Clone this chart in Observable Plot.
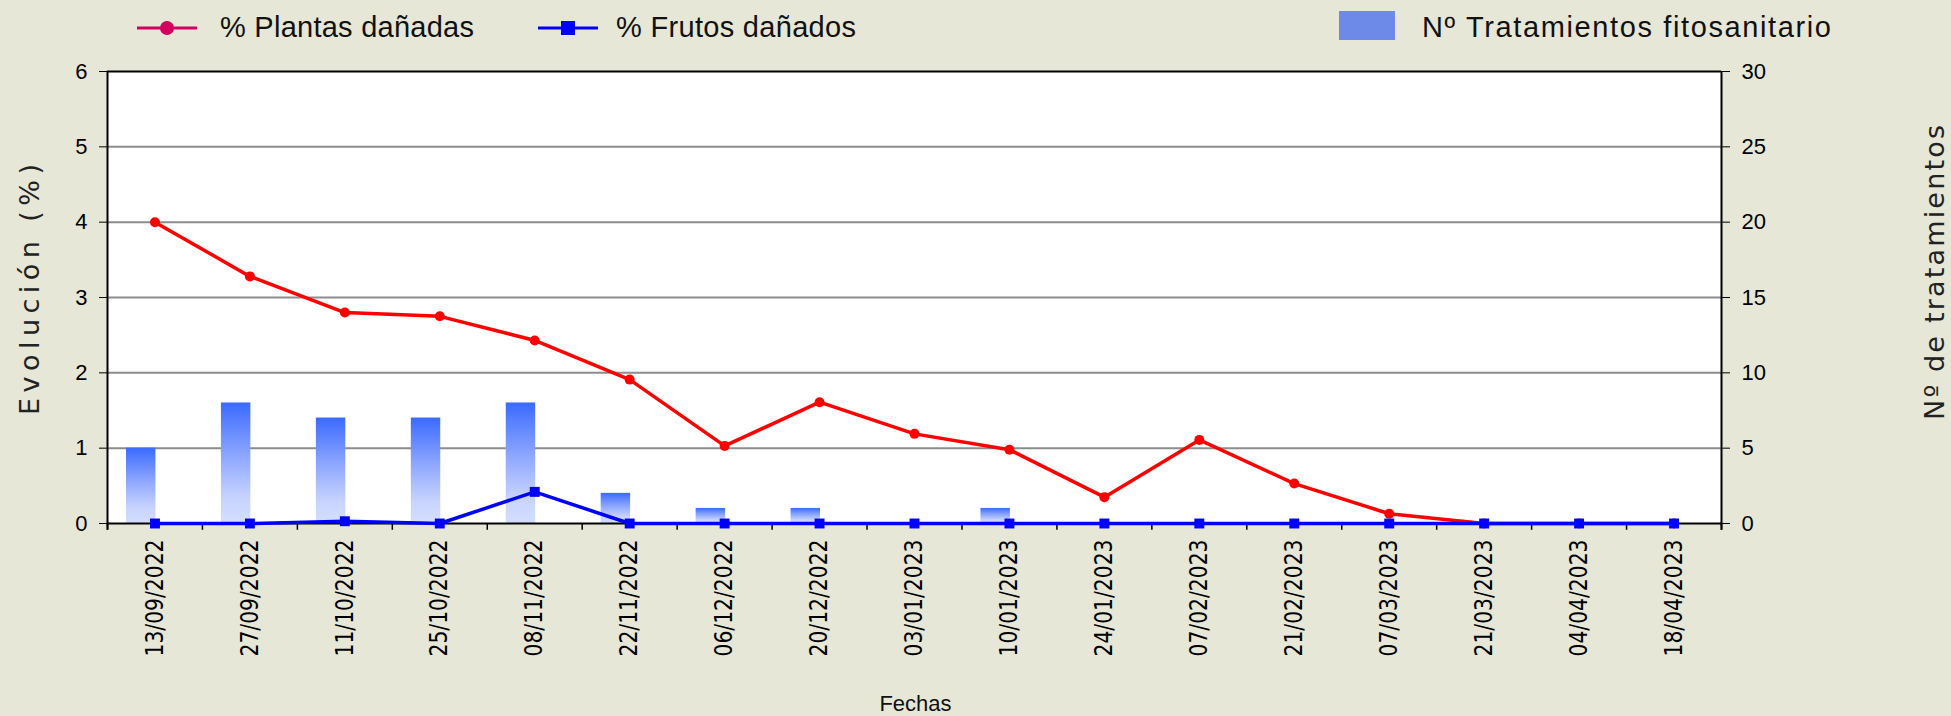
<!DOCTYPE html>
<html>
<head>
<meta charset="utf-8">
<script src="https://cdn.jsdelivr.net/npm/d3@7"></script>
<script src="https://cdn.jsdelivr.net/npm/@observablehq/plot@0.6"></script>
<style>
  html, body { margin: 0; padding: 0; background: #e6e7d7; }
  #legend { display: block; }
  #chart svg { display: block; }
</style>
</head>
<body>
<svg id="legend" width="1951" height="48"></svg>
<div id="chart"></div>
<script>
// ---- Data ----
const fechas = ["13/09/2022","27/09/2022","11/10/2022","25/10/2022","08/11/2022","22/11/2022",
  "06/12/2022","20/12/2022","03/01/2023","10/01/2023","24/01/2023","07/02/2023",
  "21/02/2023","07/03/2023","21/03/2023","04/04/2023","18/04/2023"];
const plantasDanadas = [4.00, 3.28, 2.80, 2.75, 2.43, 1.91, 1.03, 1.61, 1.19, 0.98, 0.35, 1.11, 0.53, 0.13, 0, 0, 0];
const frutosDanados = [0, 0, 0.03, 0, 0.42, 0, 0, 0, 0, 0, 0, 0, 0, 0, 0, 0, 0];
const tratamientos = [5, 8, 7, 7, 8, 2, 1, 1, 0, 1, 0, 0, 0, 0, 0, 0, 0];
const yTicks = [0, 1, 2, 3, 4, 5, 6];          // left axis (%)
const rightMax = 30;                           // right axis max (nº tratamientos)
const leftMax = 6;
const ratio = rightMax / leftMax;

const legendItems = [
  {label: "% Plantas dañadas", kind: "line", color: "#d2005f", symbol: "circle"},
  {label: "% Frutos dañados", kind: "line", color: "#0000ff", symbol: "square"},
  {label: "Nº Tratamientos fitosanitario", kind: "rect", color: "#6d8ae8"}
];

const rows = fechas.map((f, i) => ({i, fecha: f, plantas: plantasDanadas[i], frutos: frutosDanados[i], trat: tratamientos[i]}));
const bounds = d3.range(fechas.length + 1).map(k => k - 0.5);

// ---- Legend ----
const lg = d3.select("#legend");
const legendFont = "'Liberation Sans', Arial, sans-serif";
const lpos = [{x: 137, tx: 220, len: 254}, {x: 538, tx: 616, len: 240}, {x: 1339, tx: 1422, len: 409}];
legendItems.forEach((it, k) => {
  const p = lpos[k];
  if (it.kind === "line") {
    lg.append("line").attr("x1", p.x).attr("x2", p.x + 60).attr("y1", 28).attr("y2", 28)
      .attr("stroke", it.color).attr("stroke-width", 3);
    if (it.symbol === "circle") lg.append("circle").attr("cx", p.x + 30).attr("cy", 28).attr("r", 7).attr("fill", it.color);
    else lg.append("rect").attr("x", p.x + 30 - 7).attr("y", 21).attr("width", 14).attr("height", 14).attr("fill", it.color);
  } else {
    lg.append("rect").attr("x", p.x).attr("y", 11).attr("width", 56).attr("height", 29).attr("fill", it.color);
  }
  lg.append("text").attr("x", p.tx).attr("y", 37).attr("font-family", legendFont)
    .attr("font-size", 29).attr("fill", "#111")
    .attr("textLength", p.len).attr("lengthAdjust", "spacing").text(it.label);
});

// ---- Chart ----
const tickFont = "'Liberation Sans', Arial, sans-serif";
const dateFont = "'DejaVu Sans', Verdana, sans-serif";

const chart = Plot.plot({
  width: 1951,
  height: 668,
  marginTop: 23,
  marginBottom: 193,
  marginLeft: 107,
  marginRight: 230,
  style: {background: "transparent", color: "black", overflow: "visible"},
  x: {type: "linear", domain: [-0.5, fechas.length - 0.5], label: null},
  y: {domain: [0, leftMax], label: null},
  marks: [
    () => {
      const defs = document.createElementNS("http://www.w3.org/2000/svg", "defs");
      defs.innerHTML = `<linearGradient id="barGrad" x1="0" y1="0" x2="0" y2="1">
        <stop offset="0" stop-color="#3a6aff"/>
        <stop offset="0.45" stop-color="#8fa8ff"/>
        <stop offset="0.8" stop-color="#c8d4ff"/>
        <stop offset="1" stop-color="#d4defe"/>
      </linearGradient>`;
      return defs;
    },
    Plot.frame({fill: "white", stroke: null}),
    Plot.ruleY(yTicks.filter(d => d > 0 && d < leftMax), {stroke: "#8c8c8c", strokeWidth: 2}),
    Plot.rectY(rows, {x1: d => d.i - 0.3, x2: d => d.i + 0.01, y1: 0, y2: d => d.trat / ratio, fill: "url(#barGrad)"}),
    Plot.ruleY([leftMax], {stroke: "black", strokeWidth: 2}),
    Plot.ruleX([bounds[0], bounds[bounds.length - 1]], {y1: -0.09, y2: leftMax, stroke: "black", strokeWidth: 2}),
    Plot.ruleY([0], {x1: bounds[0], x2: bounds[bounds.length - 1], stroke: "black", strokeWidth: 2}),
    Plot.ruleX(bounds, {y1: 0, y2: -0.09, stroke: "black", strokeWidth: 1.5}),
    Plot.axisY({anchor: "left", ticks: yTicks, tickFormat: d => String(d), tickSize: 8, tickPadding: 12, fontSize: 22, fontFamily: tickFont, label: null}),
    Plot.axisY({anchor: "right", ticks: yTicks, tickFormat: d => String(d * ratio), tickSize: 8, tickPadding: 12, fontSize: 22, fontFamily: tickFont, label: null}),
    Plot.axisX({ticks: d3.range(fechas.length), tickFormat: i => fechas[i], tickRotate: -90, tickSize: 0, tickPadding: 16, fontSize: 24, fontFamily: dateFont, label: null}),
    Plot.line(rows, {x: "i", y: "plantas", stroke: "#ff0000", strokeWidth: 3.5}),
    Plot.dot(rows, {x: "i", y: "plantas", r: 5, fill: "#ff0000"}),
    Plot.line(rows, {x: "i", y: "frutos", stroke: "#0000ff", strokeWidth: 3.5}),
    Plot.dot(rows, {x: "i", y: "frutos", symbol: "square", r: 5.6, fill: "#0000ff"}),
    Plot.text(["Evolución (%)"], {text: d => d, frameAnchor: "left", textAnchor: "middle", lineAnchor: "middle", dx: -77, dy: -8, rotate: -90, fontSize: 27, fontFamily: dateFont, fill: "#222"}),
    Plot.text(["Nº de tratamientos"], {text: d => d, frameAnchor: "right", textAnchor: "middle", lineAnchor: "middle", dx: 214, dy: -25, rotate: -90, fontSize: 27, fontFamily: dateFont, fill: "#222"}),
    Plot.text(["Fechas"], {text: d => d, frameAnchor: "bottom", textAnchor: "middle", lineAnchor: "middle", dx: 1, dy: 180, fontSize: 22, fontFamily: tickFont, fill: "#111"})
  ]
});

chart.querySelectorAll("text").forEach(t => {
  if (t.textContent === "Evolución (%)") { t.setAttribute("textLength", "251"); t.setAttribute("lengthAdjust", "spacing"); }
  if (t.textContent === "Nº de tratamientos") { t.setAttribute("textLength", "295"); t.setAttribute("lengthAdjust", "spacing"); }
  if (fechas.includes(t.textContent)) { t.setAttribute("textLength", "117"); t.setAttribute("lengthAdjust", "spacingAndGlyphs"); }
});
document.getElementById("chart").appendChild(chart);
</script>
</body>
</html>
